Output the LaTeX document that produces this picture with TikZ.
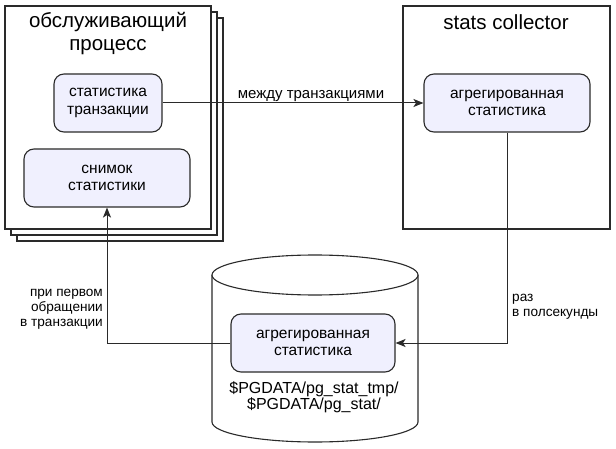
\documentclass[tikz,border=0pt]{standalone}
\usepackage{fontspec}
\setmainfont{Liberation Sans}
\usetikzlibrary{arrows.meta}
\definecolor{nodefill}{HTML}{F0F0FE}
\definecolor{linec}{HTML}{2A2A2A}
\tikzset{
  inner/.style={draw=linec, line width=1.1pt, fill=nodefill, rounded corners=10pt,
    align=center, font=\fontsize{15.5}{17.5}\selectfont, inner sep=0pt},
  frame/.style={draw=linec, line width=1.1pt, fill=white},
  title/.style={align=center, font=\fontsize{20.5}{23}\selectfont},
  conn/.style={draw=linec, line width=1pt, -{Stealth[length=10pt,width=8pt,inset=2.5pt]}},
  lab/.style={font=\fontsize{13.6}{15}\selectfont, inner sep=0pt},
}
\begin{document}
\begin{tikzpicture}[x=1pt,y=-1pt]
\useasboundingbox (0,0) rectangle (616,449);
% stacked left frames
\draw[frame] (17,18) rectangle (223,241);
\draw[frame] (11,12) rectangle (217,235);
\draw[frame] (5,6) rectangle (211,229);
\node[title] (ttl) at (108,34) {обслуживающий\\процесс};
\node[inner, minimum width=108pt, minimum height=58pt] (tx) at (108,103) {статистика\\транзакции};
\node[inner, minimum width=166pt, minimum height=58pt] (snap) at (107,178) {снимок\\статистики};
% right frame
\draw[frame] (403,6) rectangle (610,229);
\node[title] (ttr) at (506,22) {stats collector};
\node[inner, minimum width=166pt, minimum height=58pt] (agg) at (507,103) {агрегированная\\статистика};
% cylinder
\draw[draw=linec, line width=1.1pt, fill=white] (212,275) -- (212,422) arc[start angle=180, end angle=0, x radius=103, y radius=20] -- (418,275);
\draw[draw=linec, line width=1.1pt, fill=white] (315,275) ellipse [x radius=103, y radius=20];
\node[inner, minimum width=164pt, minimum height=58pt] (file) at (313,343) {агрегированная\\статистика};
\node[align=center, font=\fontsize{16}{16}\selectfont, inner sep=0pt] (path) at (314,397) {\$PGDATA/pg\_stat\_tmp/\\\$PGDATA/pg\_stat/};
% connectors
\draw[conn] (tx.east) -- (agg.west);
\node[lab, anchor=base, font=\fontsize{15}{17}\selectfont] (lb1) at (311,99) {между транзакциями};
\coordinate (c1) at (agg.south |- file.east);
\draw[conn] (agg.south) -- (c1) -- (file.east);
\node[lab, align=left, anchor=north west] (lb2) at (512,294) {раз\\в полсекунды};
\coordinate (c2) at (snap.south |- file.west);
\draw[conn] (file.west) -- (c2) -- (snap.south);
\node[lab, align=right, anchor=north east] (lb3) at (103,289) {при первом\\обращении\\в транзакции};
\end{tikzpicture}
\end{document}
